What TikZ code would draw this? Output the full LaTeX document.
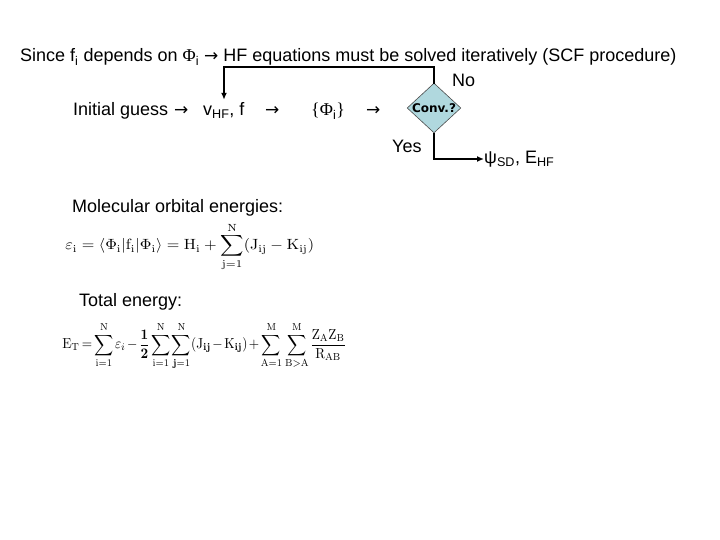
\documentclass[tikz,border=0pt]{standalone}
\usepackage[no-math]{fontspec}
\setmainfont{Liberation Sans}
\newfontfamily\convfont{DejaVu Sans}
\newfontfamily\arrfont{DejaVu Sans}
\newfontfamily\symfont{Liberation Serif}
\usetikzlibrary{arrows.meta,shapes.geometric,calc}
\definecolor{diamondfill}{RGB}{176,216,222}
\newcommand{\rarr}{{\arrfont\fontsize{17}{20}\selectfont →}}
\begin{document}
\begin{tikzpicture}[x=1pt,y=-1pt,
  txt/.style={inner sep=0pt,anchor=base west,font=\fontsize{18}{21}\selectfont},
  eqn/.style={inner sep=0pt,anchor=west},
  flow/.style={line width=1.8pt,line cap=rect},
  flowarrow/.style={line width=1.8pt,-{Latex[length=7pt,width=6pt]}},
  decision/.style={diamond,draw=black!70,line width=0.6pt,fill=diamondfill,
    minimum width=52pt,minimum height=48pt,inner sep=0pt,aspect=1.08}]
\useasboundingbox (0,0) rectangle (720,540);
\fill[white] (0,0) rectangle (720,540);
% title
\node[txt] (title) at (20,62) {Since f\textsubscript{i} depends on {\symfont Φ}\textsubscript{i} \rarr{} HF equations must be solved iteratively (SCF procedure)};
% row
\node[txt] (init) at (73,116) {Initial guess};
\node[txt] (a1) at (174,116) {\rarr};
\node[txt] (vhf) at (203,116) {v\textsubscript{HF}, f};
\node[txt] (a2) at (265,116) {\rarr};
\node[txt] (phi) at (311,116) {{\symfont\{Φ}\textsubscript{i}{\symfont\}}};
\node[txt] (a3) at (366,116) {\rarr};
\node[decision] (conv) at (434,108) {\convfont\bfseries\fontsize{12}{14}\selectfont Conv.?};
\node[txt] (no) at (452,87) {No};
\node[txt] (yes) at (392,153) {Yes};
\node[inner sep=0pt,anchor=west] (res) at (484,159) {\fontsize{18}{21}\selectfont ψ\textsubscript{SD}, E\textsubscript{HF}};
% connectors
\coordinate (fb) at (224,67);
\draw[flow] (conv.north) |- (fb);
\draw[flowarrow,shorten >=3pt] (fb) -- (fb |- vhf.north);
\draw[flowarrow] (conv.south) |- (res.west);
% energies
\node[txt] (molab) at (72,212) {Molecular orbital energies:};
\node[eqn,xscale=1.62,yscale=1.48] (eq1) at (65,247) {$\displaystyle \varepsilon_{\mathrm i} = \left\langle \Phi_{\mathrm i}\middle|\mathrm f_{\mathrm i}\middle|\Phi_{\mathrm i}\right\rangle = \mathrm H_{\mathrm i} + \sum_{\mathrm{j=1}}^{\mathrm N}(\mathrm J_{\mathrm{ij}} - \mathrm K_{\mathrm{ij}})$};
\node[txt] (totlab) at (79,306) {Total energy:};
\node[eqn,xscale=1.33,yscale=1.45] (eq2) at (62,346) {\thickmuskip=3mu\medmuskip=2mu\thinmuskip=2mu$\displaystyle \mathrm E_{\mathrm T} = \sum_{\mathrm{i=1}}^{\mathrm N}\varepsilon_i - \frac{\mathbf 1}{\mathbf 2}\sum_{\mathrm{i=1}}^{\mathrm N}\sum_{\mathbf j\mathrm{=1}}^{\mathrm N}(\mathrm J_{\mathbf{ij}}-\mathrm K_{\mathbf{ij}}) + \sum_{\mathrm{A=1}}^{\mathrm M}\,\sum_{\mathrm{B{>}A}}^{\mathrm M}\frac{\mathrm Z_{\mathrm A}\mathrm Z_{\mathrm B}}{\mathrm R_{\mathrm{AB}}}$};
\end{tikzpicture}
\end{document}
